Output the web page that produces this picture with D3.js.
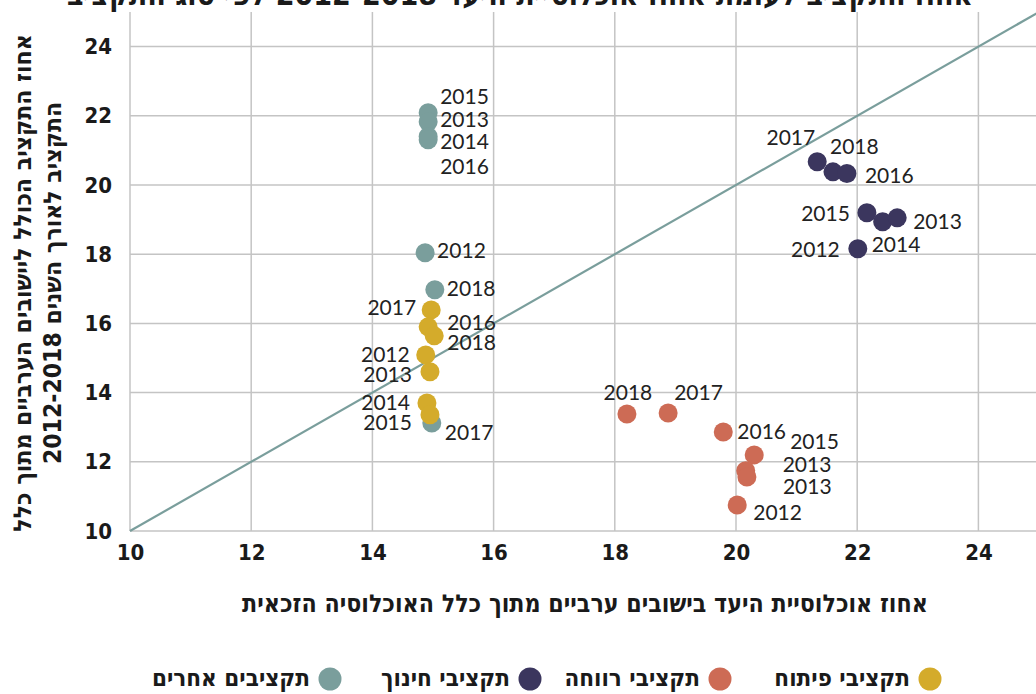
<!DOCTYPE html>
<html>
<head>
<meta charset="utf-8">
<script src="https://d3js.org/d3.v7.min.js"></script>
<style>
  body { margin: 0; background: #fff; }
  svg { display: block; }
  .heb { font-family: "Liberation Sans Narrow", "DejaVu Sans Condensed", sans-serif; font-weight: bold; fill: #1a1a1a; }
  .tick text { font-family: "Liberation Sans Narrow", "DejaVu Sans Condensed", sans-serif; font-weight: bold; font-size: 22px; fill: #1a1a1a; }
  .lbl { font-family: Lato, "Open Sans", sans-serif; font-size: 21px; fill: #222; }
</style>
</head>
<body>
<svg width="1036" height="694"></svg>
<script>
// --- data (x: % target population, y: % of budget) ---
const otherYears = [2015, 2013, 2014, 2016, 2012, 2018, 2017];
const otherX     = [14.92, 14.92, 14.92, 14.92, 14.87, 15.03, 14.98];
const otherY     = [22.09, 21.83, 21.40, 21.31, 18.04, 16.97, 13.12];

const devYears = [2017, 2016, 2018, 2012, 2013, 2014, 2015];
const devX     = [14.97, 14.92, 15.02, 14.88, 14.95, 14.90, 14.95];
const devY     = [16.39, 15.90, 15.64, 15.09, 14.60, 13.70, 13.36];

const welfareYears = [2018, 2017, 2016, 2015, 2013, 2013, 2012];
const welfareX     = [18.20, 18.88, 19.79, 20.30, 20.16, 20.18, 20.02];
const welfareY     = [13.38, 13.41, 12.86, 12.20, 11.74, 11.56, 10.75];

const eduYears = [2017, 2018, 2016, 2015, 2014, 2013, 2012];
const eduX     = [21.34, 21.60, 21.83, 22.16, 22.42, 22.66, 22.01];
const eduY     = [20.67, 20.38, 20.33, 19.20, 18.94, 19.05, 18.16];

const ticks = [10, 12, 14, 16, 18, 20, 22, 24];
const legendNames = ["תקציבי פיתוח", "תקציבי רווחה", "תקציבי חינוך", "תקציבים אחרים"];

// label placement [anchor, dx, dy] per point
const otherLbl = [["start",12,-16],["start",12,-2],["start",12,5],["start",12,27],["start",12,-2],["start",12,-1],["start",13,10]];
const devLbl = [["end",-15,-2],["start",19,-4],["start",13,7],["end",-16,0],["end",-18,3],["end",-17,0],["end",-18,8]];
const welfareLbl = [["middle",1,-21],["start",6,-20],["start",14,0],["start",36,-13],["start",37,-6],["start",36,10],["start",16,8]];
const eduLbl = [["end",-2,-24],["start",-3,-25],["start",18,2],["end",-17,1],["start",-11,23],["start",16,4],["end",-18,1]];

const colors = { dev: "#d4ab2b", welfare: "#cd6b55", edu: "#3b365e", other: "#7a9e9c" };

const svg = d3.select("svg");

const x = d3.scaleLinear().domain([10, 25]).range([130, 1039]);
const y = d3.scaleLinear().domain([10, 25]).range([531, 12]);

// title (clipped at the top in the original)
svg.append("text").attr("class", "heb")
  .attr("x", 520).attr("y", 5)
  .attr("text-anchor", "middle").attr("font-size", 30)
  .attr("direction", "rtl")
  .text("אחוז התקציב לעומת אחוז אוכלוסיית היעד 2012-2018 לפי סוג התקציב");

// grid
const grid = svg.append("g").attr("stroke", "#c4c4c4").attr("stroke-width", 1.5);
grid.selectAll(".vx").data(ticks).join("line")
  .attr("x1", d => x(d)).attr("x2", d => x(d))
  .attr("y1", y(25)).attr("y2", y(10));
grid.selectAll(".hy").data(ticks).join("line")
  .attr("x1", x(10)).attr("x2", 1036)
  .attr("y1", d => y(d)).attr("y2", d => y(d));

// axes
const xAxis = svg.append("g").attr("transform", `translate(0,${y(10)})`)
  .call(d3.axisBottom(x).tickValues(ticks).tickSize(0).tickPadding(13));
xAxis.select(".domain").remove();
const yAxis = svg.append("g").attr("transform", `translate(${x(10)},0)`)
  .call(d3.axisLeft(y).tickValues(ticks).tickSize(0).tickPadding(18));
yAxis.select(".domain").remove();

// diagonal
svg.append("line")
  .attr("x1", x(10)).attr("y1", y(10))
  .attr("x2", x(25)).attr("y2", y(25))
  .attr("stroke", "#7a9e9c").attr("stroke-width", 2.2);

// series
function series(xs, ys, years, lbl, color) {
  const pts = xs.map((v, i) => ({ x: v, y: ys[i], year: years[i], l: lbl[i] }));
  const g = svg.append("g");
  g.selectAll("circle").data(pts).join("circle")
    .attr("cx", d => x(d.x)).attr("cy", d => y(d.y))
    .attr("r", 9.5).attr("fill", color);
  return pts;
}
const all = [
  series(otherX, otherY, otherYears, otherLbl, colors.other),
  series(devX, devY, devYears, devLbl, colors.dev),
  series(welfareX, welfareY, welfareYears, welfareLbl, colors.welfare),
  series(eduX, eduY, eduYears, eduLbl, colors.edu)
];
const lg = svg.append("g");
all.forEach(pts => {
  lg.selectAll(null).data(pts).join("text").attr("class", "lbl")
    .attr("x", d => x(d.x) + d.l[1])
    .attr("y", d => y(d.y) + d.l[2])
    .attr("dy", "0.35em")
    .attr("text-anchor", d => d.l[0])
    .text(d => d.year);
});

// axis titles
svg.append("text").attr("class", "heb")
  .attr("x", 585).attr("y", 612).attr("text-anchor", "middle")
  .attr("font-size", 24.7).attr("direction", "rtl")
  .text("אחוז אוכלוסיית היעד בישובים ערביים מתוך כלל האוכלוסיה הזכאית");
const yt = svg.append("text").attr("class", "heb")
  .attr("transform", "translate(0,283) rotate(-90)")
  .attr("text-anchor", "middle").attr("font-size", 24.5).attr("direction", "rtl");
yt.append("tspan").attr("x", 0).attr("y", 31).text("אחוז התקציב הכולל ליישובים הערביים מתוך כלל");
yt.append("tspan").attr("x", 0).attr("y", 61).text("התקציב לאורך השנים 2012-2018");

// legend (right to left)
const legendColors = [colors.dev, colors.welfare, colors.edu, colors.other];
const legendX = [930, 720, 530, 330];
const leg = svg.append("g");
legendNames.forEach((n, i) => {
  leg.append("circle").attr("cx", legendX[i]).attr("cy", 679).attr("r", 11.5).attr("fill", legendColors[i]);
  leg.append("text").attr("class", "heb").attr("x", legendX[i] - 20).attr("y", 678)
    .attr("dy", "0.35em").attr("font-size", 24).attr("text-anchor", "start")
    .attr("direction", "rtl").text(n);
});
</script>
</body>
</html>
